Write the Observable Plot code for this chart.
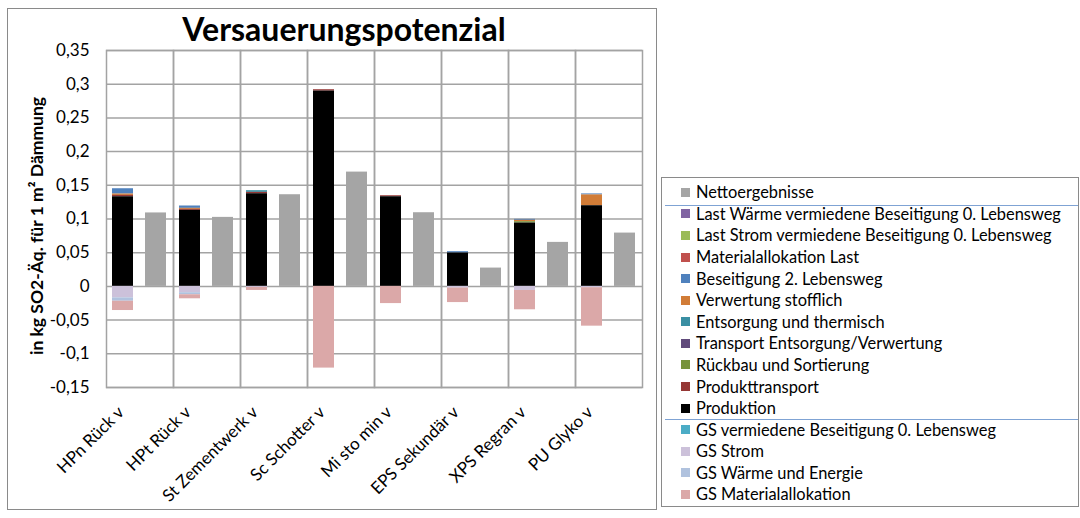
<!DOCTYPE html>
<html><head><meta charset="utf-8">
<script src="https://cdn.jsdelivr.net/npm/d3@7"></script>
<script src="https://cdn.jsdelivr.net/npm/@observablehq/plot@0.6"></script>
<style>
html,body{margin:0;padding:0;background:#fff;}
body{font-family:Lato,sans-serif;color:#000;}
#wrap{position:relative;width:1080px;height:518px;overflow:hidden;background:#fff;}
#wrap svg{position:absolute;left:0;top:0;}
#border{position:absolute;left:7px;top:8px;width:648px;height:500px;border:1px solid #8a8a8a;pointer-events:none;}
#title{position:absolute;left:344px;top:13px;transform:translateX(-50%);font-size:32px;line-height:32px;font-weight:700;white-space:nowrap;}
#ytitle{position:absolute;left:37px;top:226px;transform:translate(-50%,-50%) rotate(-90deg);font-size:17.5px;font-weight:700;white-space:nowrap;line-height:20px;}
#legend{position:absolute;left:661px;top:177px;width:416px;height:328px;border:1px solid #8a8a8a;}
.row{position:absolute;left:0;height:20px;line-height:20px;font-size:16.4px;white-space:nowrap;}
.sw{position:absolute;left:19px;top:5.5px;width:9px;height:9px;}
.lt{position:absolute;left:34px;top:0;}
.sep{position:absolute;left:3px;width:413px;height:0;border-top:1.5px solid #7fa3d4;}
</style></head><body>
<div id="wrap">
  <div id="title">Versauerungspotenzial</div>
  <div id="ytitle">in kg SO2-Äq. für 1 m² Dämmung</div>
  <div id="legend"></div>
  <div id="border"></div>
</div>
<script>
const categories = ["HPn Rück v","HPt Rück v","St Zementwerk v","Sc Schotter v","Mi sto min v","EPS Sekundär v","XPS Regran v","PU Glyko v"];
const yTicks = [-0.15,-0.1,-0.05,0,0.05,0.1,0.15,0.2,0.25,0.3,0.35];

// series values per category (kg SO2-Äq.)
const nettoergebnisse       = [0.109, 0.1024, 0.136, 0.1696, 0.1093, 0.0272, 0.0653, 0.0791];
const lastWaerme            = [0, 0, 0, 0, 0, 0, 0, 0];
const lastStrom             = [0, 0, 0, 0, 0, 0, 0, 0];
const materialallokationLast= [0, 0, 0, 0, 0, 0, 0, 0];
const beseitigung2          = [0.0079, 0.0035, 0, 0, 0, 0.002, 0.0015, 0.0015];
const verwertungStofflich   = [0.002, 0.0015, 0, 0, 0, 0, 0.002, 0.016];
const entsorgungThermisch   = [0, 0, 0.0025, 0, 0, 0, 0, 0];
const transportEntsorgung   = [0, 0, 0, 0, 0, 0, 0, 0];
const rueckbauSortierung    = [0, 0, 0, 0, 0, 0, 0.002, 0];
const produkttransport      = [0.002, 0.0015, 0.002, 0.002, 0.0015, 0, 0, 0];
const produktion            = [0.133, 0.1128, 0.1375, 0.2898, 0.133, 0.0495, 0.094, 0.1197];
const gsVermiedene          = [0, 0, 0, 0, 0, 0, 0, 0];
const gsStrom               = [-0.017, -0.0094, -0.0015, 0, 0, -0.0025, -0.006, -0.002];
const gsWaerme              = [-0.005, -0.003, 0, 0, 0, 0, 0, 0];
const gsMaterialallokation  = [-0.0138, -0.006, -0.0045, -0.1212, -0.0255, -0.0215, -0.0287, -0.057];

// legend order (top to bottom)
const legendNames = ["Nettoergebnisse","Last Wärme vermiedene Beseitigung 0. Lebensweg","Last Strom vermiedene Beseitigung 0. Lebensweg","Materialallokation Last","Beseitigung 2. Lebensweg","Verwertung stofflich","Entsorgung und thermisch","Transport Entsorgung/Verwertung","Rückbau und Sortierung","Produkttransport","Produktion","GS vermiedene Beseitigung 0. Lebensweg","GS Strom","GS Wärme und Energie","GS Materialallokation"];
const legendColors = ["#a5a5a5","#8064a2","#9bbb59","#c0504d","#4f81bd","#d17c37","#3a8fa3","#604a7b","#77933c","#953735","#000000","#4bacc6","#ccc1da","#b0c2de","#dba8a8"];
const legendValues = [nettoergebnisse,lastWaerme,lastStrom,materialallokationLast,beseitigung2,verwertungStofflich,entsorgungThermisch,transportEntsorgung,rueckbauSortierung,produkttransport,produktion,gsVermiedene,gsStrom,gsWaerme,gsMaterialallokation];

// stacking order from zero outward
const stackOrder = ["GS Strom","GS Wärme und Energie","GS Materialallokation","GS vermiedene Beseitigung 0. Lebensweg","Produktion","Produkttransport","Rückbau und Sortierung","Transport Entsorgung/Verwertung","Entsorgung und thermisch","Verwertung stofflich","Beseitigung 2. Lebensweg","Materialallokation Last","Last Strom vermiedene Beseitigung 0. Lebensweg","Last Wärme vermiedene Beseitigung 0. Lebensweg","Nettoergebnisse"];

const rows = [];
categories.forEach((c, i) => {
  legendNames.forEach((name, k) => {
    const v = legendValues[k][i];
    if (v !== 0) rows.push({cat: c, kind: name === "Nettoergebnisse" ? "net" : "stack", series: name, value: v});
  });
});

const fmt = d => String(d).replace(".", ",");
const gridColor = "#a3a3a3";

const chart = Plot.plot({
  width: 1080, height: 518,
  marginLeft: 106, marginRight: 438, marginTop: 50, marginBottom: 131,
  style: {fontFamily: "Lato, sans-serif", fontSize: "17px", color: "#000", background: "transparent", overflow: "visible"},
  fx: {domain: categories, padding: 0, label: null},
  x: {domain: ["stack","net"], paddingInner: 0.353, paddingOuter: 0.162, axis: null},
  y: {domain: [-0.15, 0.35], label: null},
  color: {domain: legendNames, range: legendColors},
  marks: [
    Plot.gridY(yTicks, {stroke: gridColor, strokeOpacity: 1, strokeWidth: 1.5}),
    Plot.barY(rows, {fx: "cat", x: "kind", y: "value", fill: "series", order: stackOrder}),
    Plot.frame({stroke: gridColor, strokeWidth: 1.5}),
    Plot.axisY(yTicks, {tickSize: 0, tickPadding: 17, tickFormat: fmt, label: null, fontSize: 17}),
    Plot.axisFx({anchor: "bottom", tickRotate: -45, tickSize: 0, tickPadding: 22, dx: -19, label: null, fontSize: 17})
  ]
});
const wrap = document.getElementById("wrap");
wrap.insertBefore(chart, wrap.firstChild);

// legend
const leg = document.getElementById("legend");
legendNames.forEach((name, i) => {
  const yc = 192.3 + 21.58 * i - 178;
  const r = document.createElement("div");
  r.className = "row";
  r.style.top = (yc - 10) + "px";
  r.innerHTML = `<span class="sw" style="background:${legendColors[i]}"></span><span class="lt">${name}</span>`;
  leg.appendChild(r);
});
[205 - 178, 419 - 178].forEach(y => {
  const s = document.createElement("div");
  s.className = "sep";
  s.style.top = y + "px";
  leg.appendChild(s);
});
</script>
</body></html>
